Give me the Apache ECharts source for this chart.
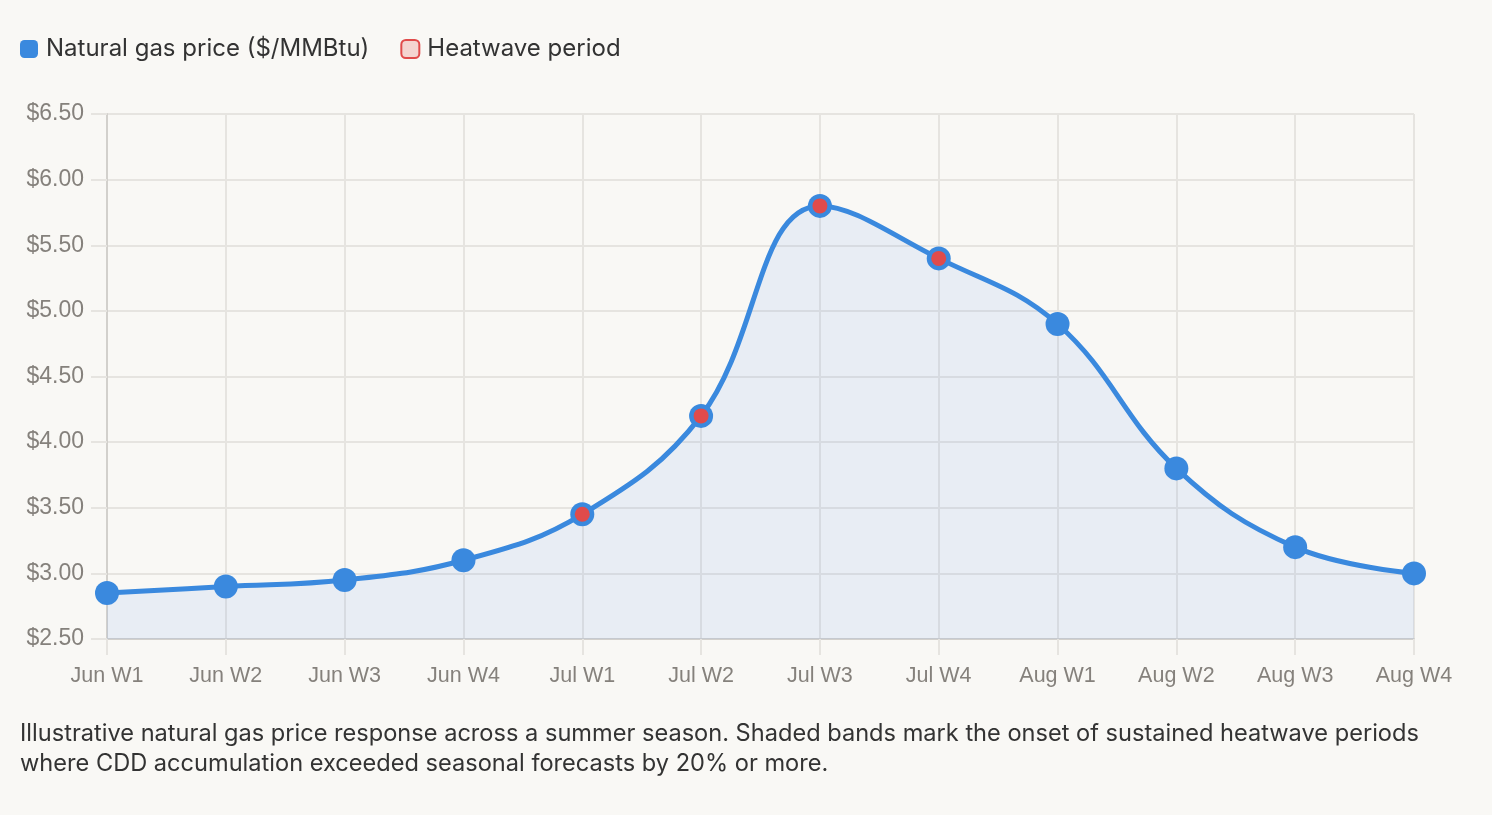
<!DOCTYPE html>
<html>
<head>
<meta charset="utf-8">
<script src="https://cdn.jsdelivr.net/npm/echarts@6/dist/echarts.min.js"></script>
<style>
    html, body { margin: 0; padding: 0; background: #f9f8f5; }
    #main { width: 1492px; height: 815px; }
    .caption {
        position: absolute; left: 20px; top: 718px; width: 1420px;
        font-family: Inter, "Noto Sans", sans-serif; font-size: 23.6px; line-height: 30px;
        color: #333;
    }
</style>
</head>
<body>
<div id="main"></div>
<div class="caption">Illustrative natural gas price response across a summer season. Shaded bands mark the onset of sustained heatwave periods where CDD accumulation exceeded seasonal forecasts by 20% or more.</div>
<script>
// 周次
var weeks = ['Jun W1', 'Jun W2', 'Jun W3', 'Jun W4', 'Jul W1', 'Jul W2', 'Jul W3', 'Jul W4', 'Aug W1', 'Aug W2', 'Aug W3', 'Aug W4'];
// 天然气价格 ($/MMBtu)
var prices = [2.85, 2.90, 2.95, 3.10, 3.45, 4.20, 5.80, 5.40, 4.90, 3.80, 3.20, 3.00];
// 热浪周 1 = yes
var heatwave = [0, 0, 0, 0, 1, 1, 1, 1, 0, 0, 0, 0];

var blue = '#3a89de';
var red = '#e04b4b';
var gridColor = '#e6e4e0';

var heatData = prices.map(function (v, i) { return heatwave[i] ? v : null; });

var myChart = echarts.init(document.getElementById('main'));

var option = {
    backgroundColor: '#f9f8f5',
    animation: false,
    legend: {
        left: 15,
        top: 32,
        itemWidth: 18,
        itemHeight: 18,
        itemGap: 31,
        icon: 'roundRect',
        textStyle: { fontFamily: 'Inter, "Noto Sans", sans-serif', fontSize: 24, color: '#333', padding: [0, 0, 0, 3] },
        data: [
            { name: 'Natural gas price ($/MMBtu)', itemStyle: { color: blue, borderWidth: 0 } },
            { name: 'Heatwave period', itemStyle: { color: '#f4d4d0', borderColor: red, borderWidth: 2 } }
        ]
    },
    grid: { left: 107, right: 78, top: 114, bottom: 176, containLabel: false },
    xAxis: {
        type: 'category',
        data: weeks,
        boundaryGap: false,
        axisLine: { lineStyle: { color: '#d2d0cc', width: 2 } },
        axisTick: { show: true, length: 16, lineStyle: { color: gridColor, width: 2 } },
        axisLabel: { color: '#85817c', fontSize: 21.5, margin: 26, fontFamily: '"Liberation Sans", Arial, sans-serif' },
        splitLine: { show: true, lineStyle: { color: gridColor, width: 2 } }
    },
    yAxis: {
        type: 'value',
        min: 2.5,
        max: 6.5,
        interval: 0.5,
        axisLine: { show: true, lineStyle: { color: '#d2d0cc', width: 2 } },
        axisTick: { show: true, length: 16, lineStyle: { color: gridColor, width: 2 } },
        axisLabel: {
            color: '#85817c', fontSize: 23, margin: 23, padding: [5, 0, 0, 0],
            fontFamily: '"Liberation Sans", Arial, sans-serif',
            formatter: function (v) { return '$' + v.toFixed(2); }
        },
        splitLine: { lineStyle: { color: gridColor, width: 2 } }
    },
    series: [
        {
            name: 'Natural gas price ($/MMBtu)',
            type: 'line',
            data: prices,
            smooth: 0.4,
            symbol: 'circle',
            symbolSize: 24,
            showSymbol: true,
            lineStyle: { color: blue, width: 5 },
            itemStyle: { color: blue },
            areaStyle: { color: 'rgba(70,135,240,0.13)', origin: 'start' },
            z: 2
        },
        {
            name: 'Heatwave period',
            type: 'scatter',
            data: heatData,
            symbol: 'circle',
            symbolSize: 15,
            itemStyle: { color: red, opacity: 1 },
            z: 3
        }
    ]
};

myChart.setOption(option);
</script>
</body>
</html>
